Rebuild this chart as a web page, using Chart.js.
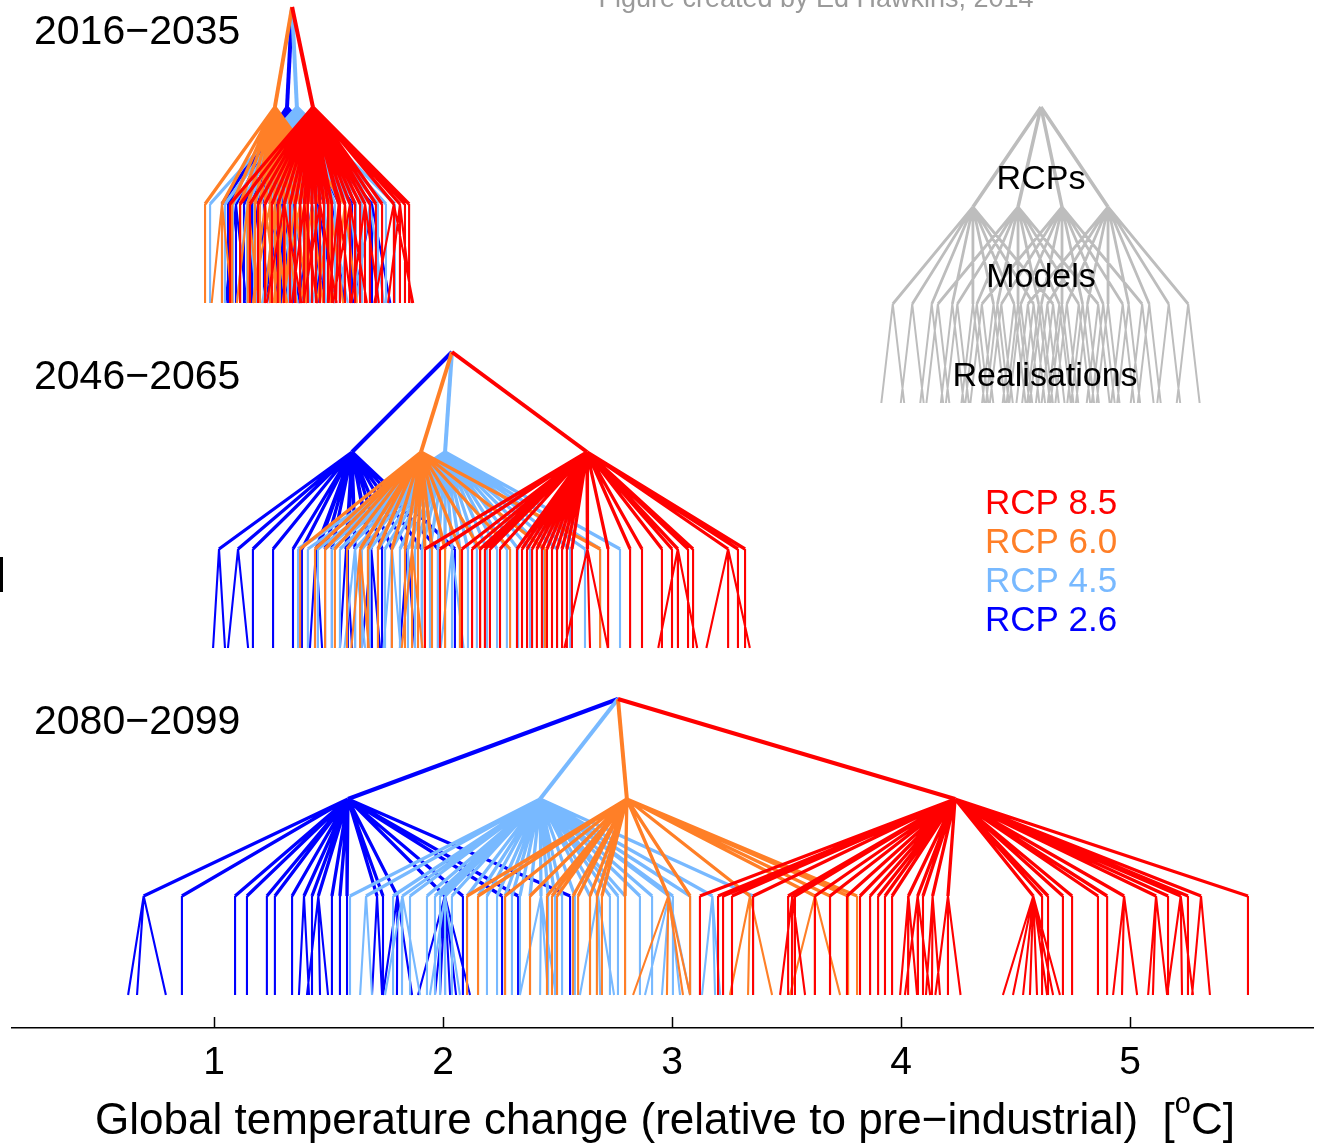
<!DOCTYPE html>
<html>
<head>
<meta charset="utf-8">
<script src="https://cdn.jsdelivr.net/npm/chart.js@4.4.1/dist/chart.umd.min.js"></script>
<style>
  html, body { margin: 0; padding: 0; background: #ffffff; }
  #wrap { width: 1319px; height: 1143px; position: relative; }
</style>
</head>
<body>
<div id="wrap"><canvas id="tree"></canvas></div>
<script>
// ---- axis ----
const tickValues = [1, 2, 3, 4, 5];
const periods = ['2016−2035', '2046−2065', '2080−2099'];
const scenarios = ['RCP 2.6', 'RCP 4.5', 'RCP 6.0', 'RCP 8.5'];

// ---- multi-scenario mean for each period (°C) ----
const allMean = [1.341, 2.039, 2.764];

// ---- scenario means [RCP2.6, RCP4.5, RCP6.0, RCP8.5] ----
const rcpMean2016 = [1.319, 1.362, 1.266, 1.432];
const rcpMean2046 = [1.603, 2.009, 1.904, 2.629];
const rcpMean2080 = [1.585, 2.424, 2.803, 4.236];

// ---- realisations, grouped by model (each inner list = one model) ----
const real2016_rcp26 = [[1.035],[1.061],[1.050,1.096,1.142],[1.131],[1.166],[1.140,1.192,1.244],[1.218],[1.245],[1.220,1.271,1.322],[1.220,1.297,1.374],[1.323],[1.290,1.349,1.408],[1.376],[1.402],[1.370,1.428,1.486],[1.380,1.454,1.528],[1.485],[1.460,1.515,1.570],[1.550],[1.603],[1.610,1.690,1.770]];
const real2016_rcp45 = [[0.983],[1.048],[1.083],[1.114],[1.100,1.144,1.188],[1.175],[1.201],[1.223],[1.245],[1.220,1.266,1.312],[1.210,1.288,1.366],[1.306],[1.323],[1.332],[1.341],[1.358],[1.330,1.376,1.420],[1.376],[1.393],[1.410],[1.428],[1.400,1.445,1.490],[1.463],[1.485],[1.430,1.507,1.584],[1.528],[1.550],[1.572],[1.550,1.594,1.640],[1.620],[1.646],[1.620,1.681,1.742],[1.716],[1.751],[1.790]];
const real2016_rcp60 = [[0.961],[0.990,1.035,1.080],[1.079],[1.114],[1.100,1.148,1.196],[1.179],[1.201],[1.170,1.223,1.276],[1.170,1.245,1.320],[1.220,1.266,1.312],[1.288],[1.260,1.310,1.360],[1.332],[1.300,1.354,1.408],[1.300,1.376,1.452],[1.402],[1.380,1.428,1.476],[1.463],[1.450,1.507,1.564],[1.520,1.572,1.624]];
const real2016_rcp85 = [[1.070],[1.114],[1.157],[1.192],[1.223],[1.253],[1.279],[1.230,1.306,1.382],[1.332],[1.354],[1.376],[1.376],[1.340,1.393,1.450],[1.410],[1.428],[1.445],[1.390,1.463,1.536],[1.480],[1.498],[1.515],[1.500,1.533,1.600],[1.550],[1.572],[1.520,1.594,1.668],[1.616],[1.638],[1.600,1.659,1.720],[1.681],[1.707],[1.734],[1.700,1.786,1.870],[1.786],[1.760,1.812,1.864],[1.834],[1.852]];

const real2046_rcp26 = [[0.996,1.048],[1.061,1.149],[1.170],[1.258],[1.345],[1.384],[1.419,1.472],[1.454],[1.485],[1.515],[1.550,1.603],[1.585],[1.616],[1.646,1.690,1.725],[1.681],[1.734],[1.777],[1.812,1.878],[1.908],[1.978],[2.052]];
const real2046_rcp45 = [[1.367],[1.410],[1.454],[1.485],[1.515],[1.550],[1.581],[1.570,1.616,1.660],[1.646],[1.681],[1.716],[1.747],[1.740,1.777,1.815],[1.812],[1.847],[1.878],[1.908],[1.943],[1.978],[2.009],[1.990,2.039,2.090],[2.074],[2.109],[2.148],[2.192],[2.236],[2.279],[2.328],[2.380],[2.437],[2.498],[2.555],[2.620],[2.686],[2.773]];
const real2046_rcp60 = [[1.376],[1.441],[1.485],[1.528],[1.581],[1.600,1.638,1.676],[1.672],[1.716],[1.777],[1.834],[1.820,1.865,1.910],[1.891],[1.921],[1.952],[2.009],[2.074],[2.162],[2.293],[2.445],[2.686]];
const real2046_rcp85 = [[1.921],[1.987],[2.083],[2.127],[2.162],[2.183],[2.205],[2.249],[2.323],[2.345],[2.367],[2.389],[2.410],[2.432],[2.454],[2.476],[2.498],[2.520],[2.541],[2.563],[2.530,2.642,2.720],[2.721],[2.817],[2.869],[2.956],[3.000],[2.940,3.026,3.110],[3.070],[3.092],[3.150,3.245,3.340],[3.288],[3.319]];

const real2080_rcp26 = [[0.625,0.664,0.790],[0.860],[1.092],[1.144],[1.231],[1.266],[1.341],[1.371,1.415],[1.428],[1.406,1.463,1.498],[1.515],[1.550],[1.581],[1.690,1.734],[1.738],[1.738,1.799,1.865],[1.891,1.965,1.987,2.009,2.031,2.057,2.118],[2.087],[2.258],[2.328],[2.555]];
const real2080_rcp45 = [[1.594],[1.638,1.690],[1.782],[1.747,1.821,1.900],[1.856],[1.930],[1.965],[1.987],[1.943,2.009,2.074],[2.039],[2.105],[2.153],[2.192],[2.236],[2.271],[2.301],[2.336],[2.380],[2.336,2.424,2.459,2.493],[2.459],[2.489],[2.520],[2.576],[2.642],[2.598,2.686,2.747],[2.729],[2.764],[2.795],[2.860],[2.913],[2.882,2.956,3.035,3.079],[3.004],[3.079],[3.131,3.188,3.210],[3.354]];
const real2080_rcp60 = [[2.105],[2.153],[2.271],[2.380],[2.454],[2.476],[2.498],[2.568],[2.590],[2.642],[2.672],[2.694],[2.795],[2.830,2.978,3.048,3.079],[3.079],[3.253,3.332,3.437],[3.515,3.624,3.734],[3.690],[3.769],[3.808]];
const real2080_rcp85 = [[3.122],[3.201],[3.223],[3.262],[3.354],[3.507],[3.472,3.524,3.581],[3.537],[3.624],[3.690],[3.764],[3.821],[3.865],[3.900],[3.930],[3.961],[3.996,4.031,4.070],[4.017,4.074,4.127],[4.096],[4.109,4.135,4.170],[4.150,4.205,4.260],[4.445,4.489,4.533,4.563,4.594,4.638,4.664,4.694],[4.616],[4.642],[4.707],[4.747],[4.860],[4.900],[4.926,4.965,5.031],[5.079,5.100,5.162],[5.166],[5.162,5.227,5.275],[5.253],[5.271,5.349],[5.515]];

// ---- schematic key tree (grey) ----
const keyRoot = 4.611;
const keyRcp = [4.314, 4.511, 4.703, 4.904];
const keyModelOffsets = [-0.35, -0.265, -0.18, -0.09, 0, 0.09, 0.18, 0.265, 0.35];
const keyRealOffsets = [-0.05, 0.05];

// ---- vertical layout (tree rows, in axis units) ----
const panelBase = [7.25, 3.80, 0.33];   // realisation row of each period
const rowOffset = [0, 0.99, 1.96, 2.96]; // realisations, models, scenarios, all
const keyBase = 6.25;

const colors = ['#0000ff', '#78b9ff', '#ff7f27', '#ff0000'];
const keyColor = '#bdbdbd';

const rcpMeans = [rcpMean2016, rcpMean2046, rcpMean2080];
const realisations = [
  [real2016_rcp26, real2016_rcp45, real2016_rcp60, real2016_rcp85],
  [real2046_rcp26, real2046_rcp45, real2046_rcp60, real2046_rcp85],
  [real2080_rcp26, real2080_rcp45, real2080_rcp60, real2080_rcp85]
];

const mean = a => a.reduce((s, v) => s + v, 0) / a.length;

const datasets = [];
function addBranches(pairs, color, width, order) {
  const data = [];
  pairs.forEach(([x0, y0, x1, y1]) => {
    data.push({x: x0, y: y0}, {x: x1, y: y1}, {x: x1, y: null});
  });
  datasets.push({
    data, borderColor: color, borderWidth: width, order,
    pointRadius: 0, pointHoverRadius: 0, spanGaps: false, fill: false, tension: 0
  });
}

// schematic key tree
{
  const yR = keyBase, yM = keyBase + rowOffset[1], yS = keyBase + rowOffset[2], yA = keyBase + rowOffset[3];
  const top = [], mid = [], low = [];
  keyRcp.forEach(s => {
    top.push([keyRoot, yA, s, yS]);
    keyModelOffsets.forEach(o => {
      const m = s + o;
      mid.push([s, yS, m, yM]);
      keyRealOffsets.forEach(r => low.push([m, yM, m + r, yR]));
    });
  });
  addBranches(top, keyColor, 3.5, 20);
  addBranches(mid, keyColor, 2.8, 20);
  addBranches(low, keyColor, 2.0, 20);
}

// projection trees
periods.forEach((p, pi) => {
  const base = panelBase[pi];
  const yR = base, yM = base + rowOffset[1], yS = base + rowOffset[2], yA = base + rowOffset[3];
  scenarios.forEach((s, si) => {
    const sx = rcpMeans[pi][si];
    const models = realisations[pi][si];
    const order = 3 - si;
    const mid = [], low = [];
    models.forEach(runs => {
      const m = mean(runs);
      mid.push([sx, yS, m, yM]);
      runs.forEach(v => low.push([m, yM, v, yR]));
    });
    addBranches(low, colors[si], 2.1, order);
    addBranches(mid, colors[si], 3.3, order);
    addBranches([[allMean[pi], yA, sx, yS]], colors[si], 4, order);
  });
});

const FONT = '"Liberation Sans", Arial, Helvetica, sans-serif';

const decor = {
  id: 'decor',
  afterDraw(chart) {
    const ctx = chart.ctx, xs = chart.scales.x, area = chart.chartArea;
    ctx.save();
    // inward tick marks
    ctx.strokeStyle = '#000'; ctx.lineWidth = 1.5;
    tickValues.forEach(v => {
      const px = Math.round(xs.getPixelForValue(v)) + 0.5;
      ctx.beginPath(); ctx.moveTo(px, area.bottom); ctx.lineTo(px, area.bottom - 11); ctx.stroke();
    });
    // period labels
    ctx.fillStyle = '#000'; ctx.textAlign = 'left'; ctx.textBaseline = 'alphabetic';
    ctx.font = '41px ' + FONT;
    ctx.fillText(periods[0], 34, 44);
    ctx.fillText(periods[1], 34, 389);
    ctx.fillText(periods[2], 34, 734);
    // scenario legend
    ctx.font = '35px ' + FONT;
    [3, 2, 1, 0].forEach((si, k) => {
      ctx.fillStyle = colors[si];
      ctx.fillText(scenarios[si], 985, 514 + k * 39);
    });
    // key tree labels
    ctx.fillStyle = '#000'; ctx.textAlign = 'center'; ctx.font = '34px ' + FONT;
    ctx.fillText('RCPs', 1041, 189);
    ctx.fillText('Models', 1041, 287);
    ctx.fillText('Realisations', 1045, 386);
    // credit
    ctx.fillStyle = '#9a9a9a'; ctx.font = '27px ' + FONT;
    ctx.fillText('Figure created by Ed Hawkins, 2014', 816, 7);
    // axis title with superscript degree
    const t1 = 'Global temperature change (relative to pre−industrial)  [';
    const sup = 'o', t2 = 'C]';
    ctx.font = '44px ' + FONT; const w1 = ctx.measureText(t1).width, w3 = ctx.measureText(t2).width;
    ctx.font = '29px ' + FONT; const w2 = ctx.measureText(sup).width;
    const x0 = 665 - (w1 + w2 + w3) / 2;
    ctx.fillStyle = '#000'; ctx.textAlign = 'left';
    ctx.font = '44px ' + FONT; ctx.fillText(t1, x0, 1134);
    ctx.font = '29px ' + FONT; ctx.fillText(sup, x0 + w1, 1113);
    ctx.font = '44px ' + FONT; ctx.fillText(t2, x0 + w1 + w2, 1134);
    // clipped mark at the left edge
    ctx.fillStyle = '#000'; ctx.fillRect(0, 557, 3, 35);
    ctx.restore();
  }
};

new Chart(document.getElementById('tree'), {
  type: 'line',
  data: { datasets },
  options: {
    responsive: true, maintainAspectRatio: false, animation: false, events: [],
    layout: { padding: { left: 12, right: 6, top: 0, bottom: 0 } },
    plugins: { legend: { display: false }, tooltip: { enabled: false } },
    scales: {
      x: {
        type: 'linear', position: 'bottom', min: 0.118, max: 5.799,
        afterBuildTicks: s => { s.ticks = tickValues.map(v => ({value: v})); },
        afterFit: s => { s.height = 115; },
        grid: { display: false, drawTicks: false },
        border: { display: true, color: '#000', width: 1.5 },
        ticks: { color: '#000', font: { family: FONT, size: 39 }, padding: 12, maxRotation: 0, autoSkip: false }
      },
      y: { type: 'linear', display: false, min: 0, max: 10.28 }
    }
  },
  plugins: [decor]
});
</script>
</body>
</html>
